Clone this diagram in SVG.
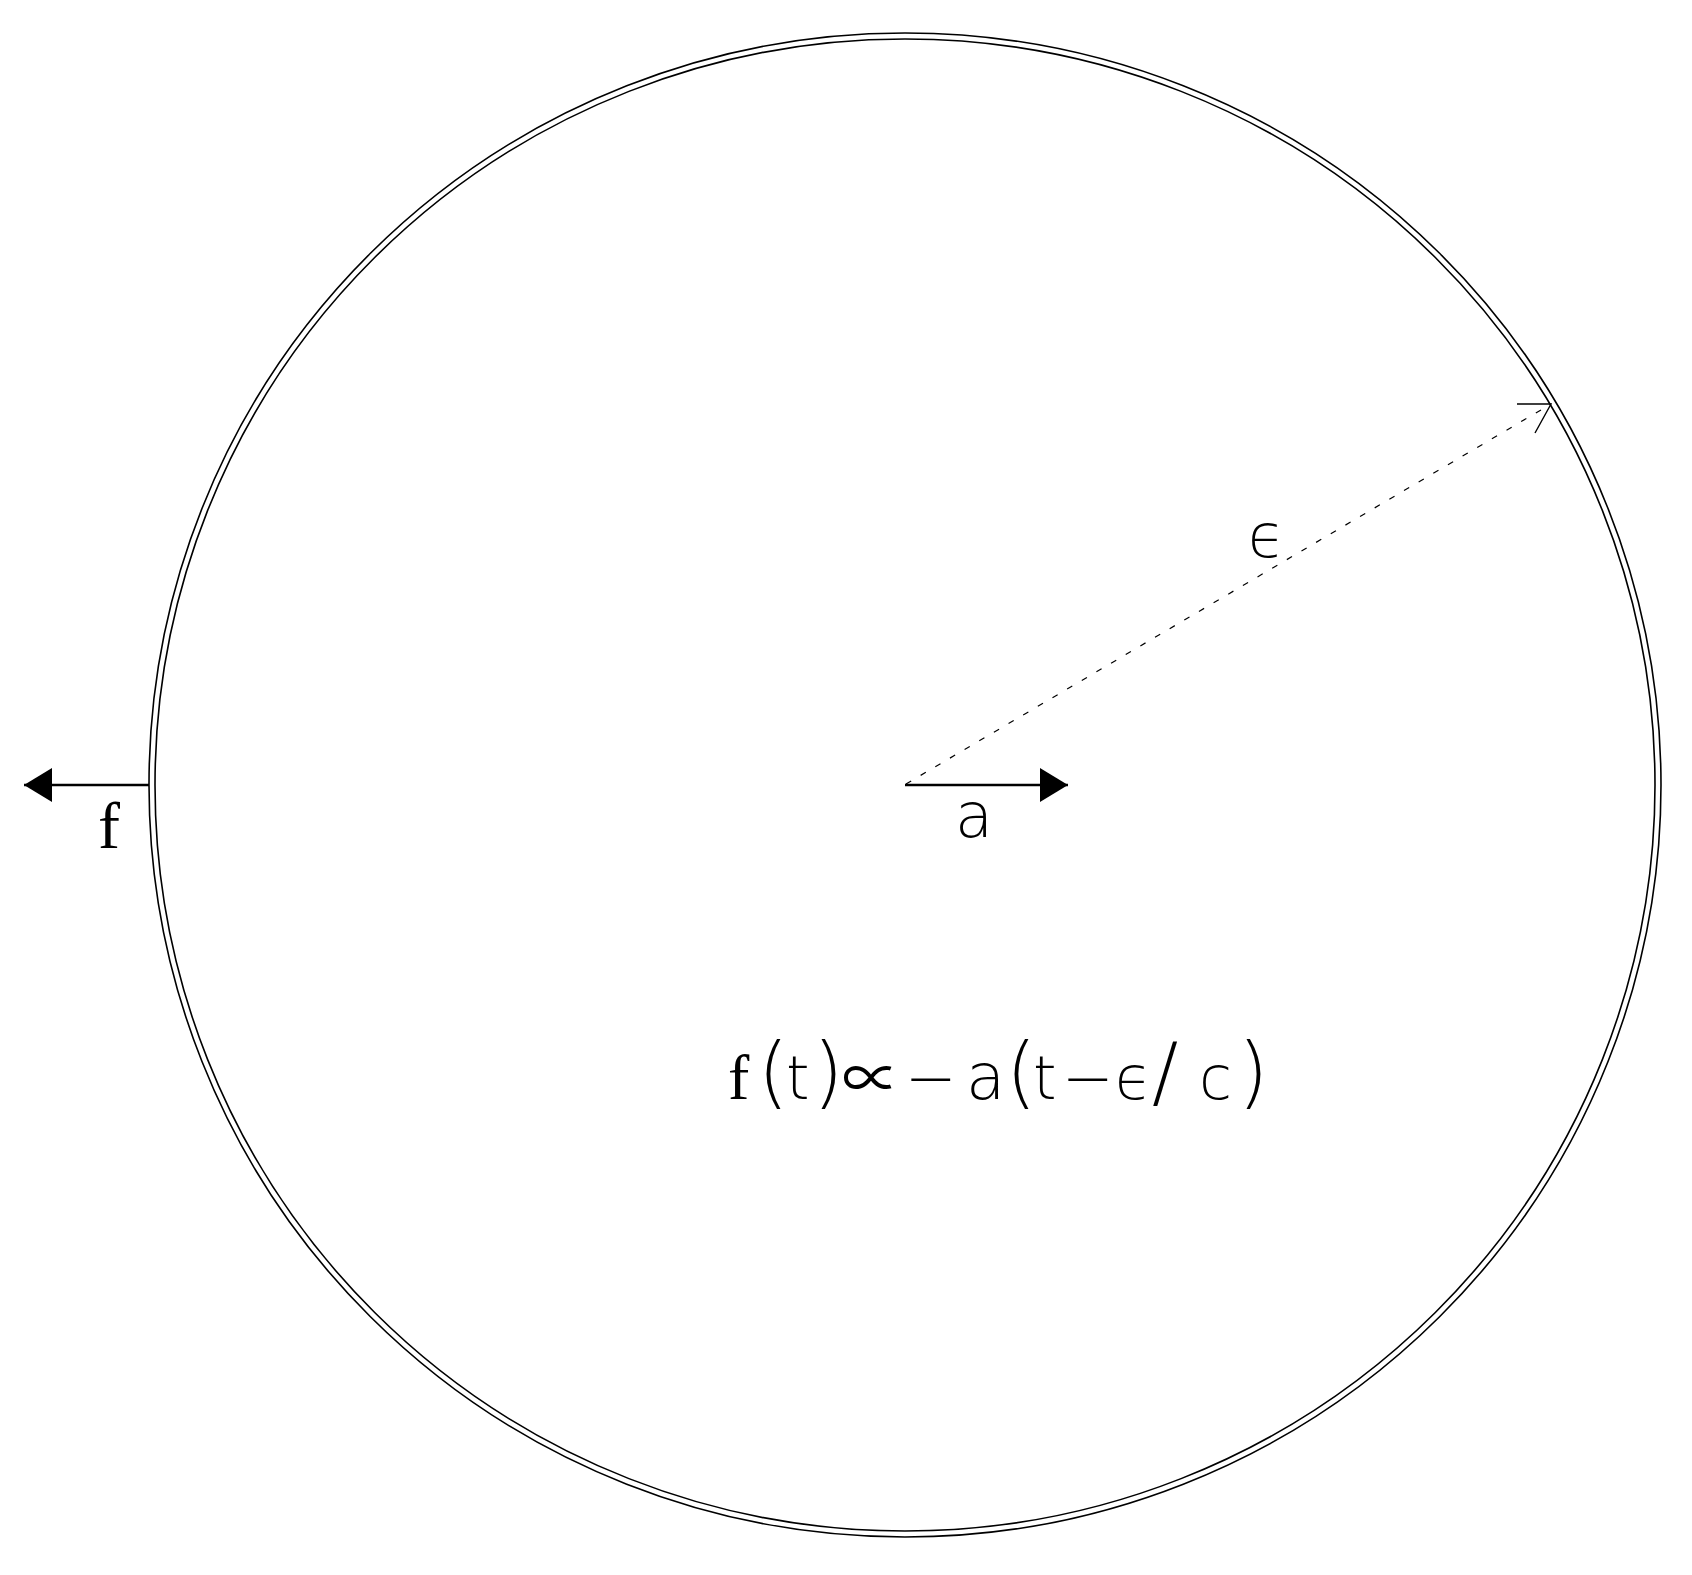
<svg xmlns="http://www.w3.org/2000/svg" width="1692" height="1575" viewBox="0 0 1692 1575">
<style>
.ring{fill:none;stroke:#000;stroke-width:1.6}
.vec{stroke:#000;stroke-width:2.5;fill:none}
.dash{stroke:#000;stroke-width:1.2;stroke-dasharray:6 11;fill:none}
.serif{font-family:"Liberation Serif","DejaVu Serif",serif;font-weight:normal;fill:#000}
.sans{font-family:"DejaVu Sans","Liberation Sans",sans-serif;font-weight:200;fill:#000}
.big{font-size:78px}
.op{font-size:62px}
.prop{font-family:"Noto Sans CJK JP","DejaVu Sans",sans-serif;font-weight:normal;font-size:58px}
</style>
<defs>
<marker id="solid" markerWidth="30" markerHeight="36" refX="29" refY="17" orient="auto" markerUnits="userSpaceOnUse">
<path d="M1,0 L29,17 L1,34 Z" fill="#000"/>
</marker>
</defs>
<rect width="1692" height="1575" fill="#fff"/>
<g id="sphere">
<ellipse class="ring" cx="905" cy="785" rx="756" ry="752"/>
<ellipse class="ring" cx="905" cy="785" rx="750" ry="746"/>
</g>
<g id="connectors">
<line class="vec" x1="149" y1="785" x2="24" y2="785" marker-end="url(#solid)"/>
<line class="vec" x1="905" y1="785" x2="1068" y2="785" marker-end="url(#solid)"/>
<line class="dash" x1="906" y1="784" x2="1551" y2="404"/>
<path d="M1517,404 L1551,404 L1535,433" stroke="#000" stroke-width="1.4" fill="none"/>
</g>
<g id="label-f"><text class="serif" x="98" y="848" font-size="66">f</text></g>
<g id="label-a"><text class="sans" x="955" y="837" font-size="62">a</text></g>
<g id="label-eps"><text class="sans" x="1248" y="557" font-size="60">ϵ</text></g>
<g id="formula">
<text y="1099" font-size="60" class="sans"><tspan class="serif" font-size="64" x="728">f</tspan><tspan class="big" x="758">(</tspan><tspan x="786">t</tspan><tspan class="big" x="813">)</tspan><tspan class="prop" x="842">∝</tspan><tspan class="op" x="905">−</tspan><tspan font-size="64" x="966">a</tspan><tspan class="big" x="1006">(</tspan><tspan x="1033">t</tspan><tspan class="op" x="1062">−</tspan><tspan x="1115">ϵ</tspan><tspan class="big" x="1152">/</tspan><tspan x="1199">c</tspan><tspan class="big" x="1238">)</tspan></text>
</g>
</svg>
